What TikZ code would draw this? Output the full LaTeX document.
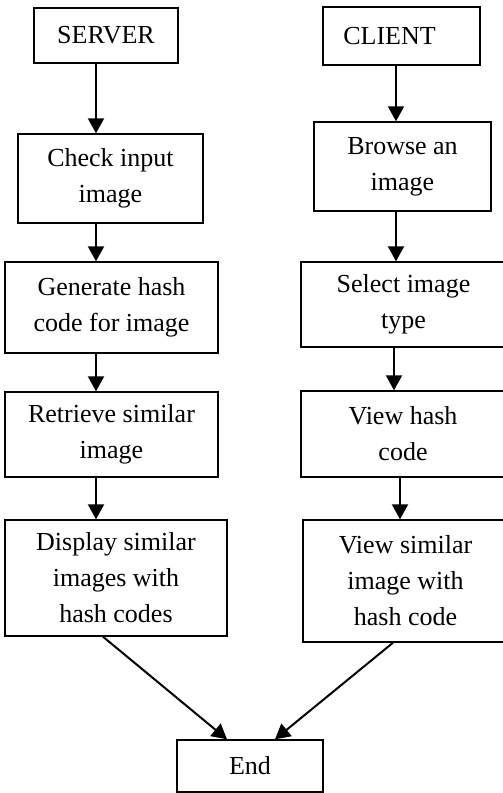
\documentclass[tikz,border=0pt]{standalone}
\usepackage{fontspec}
\setmainfont{Liberation Serif}
\usetikzlibrary{arrows.meta}
\begin{document}
\begin{tikzpicture}[x=1pt,y=-1pt,
    stepbox/.style={draw,line width=1.4pt,align=center,inner sep=0pt,
      font=\fontsize{26}{36}\selectfont},
    flow/.style={-{Triangle[width=16pt,length=15pt]},line width=2pt}]
  \useasboundingbox (0,0) rectangle (503,793);
  \coordinate (lcol) at (96,0);
  \coordinate (rcol) at (396,0);
  \draw
    (106,35.5) node[stepbox,minimum width=144pt,minimum height=55pt] (server){SERVER}
    (110.5,178.5) node[stepbox,minimum width=185pt,minimum height=89pt] (check){Check input\\image}
    (111.5,307.5) node[stepbox,minimum width=213pt,minimum height=91pt] (generate){Generate hash\\code for image}
    (111.5,434.5) node[stepbox,minimum width=213pt,minimum height=85pt] (retrieve){Retrieve similar\\image}
    (116,578) node[stepbox,minimum width=222pt,minimum height=116pt] (display){Display similar\\images with\\hash codes};
  \draw
    (401.5,36) node[stepbox,minimum width=157pt,minimum height=58pt] (client){CLIENT\hspace{24pt}}
    (402.5,166.5) node[stepbox,minimum width=177pt,minimum height=89pt] (browse){Browse an\\image}
    (403.5,304.5) node[stepbox,minimum width=205pt,minimum height=85pt] (select){Select image\\type}
    (403,434) node[stepbox,minimum width=204pt,minimum height=86pt] (viewhash){View hash\\code}
    (405.5,581) node[stepbox,minimum width=205pt,minimum height=122pt] (viewsim){View similar\\image with\\hash code};
  \draw
    (250,766) node[stepbox,minimum width=146pt,minimum height=52pt] (endbox){End};
  \begin{scope}[flow]
    \draw (server.south -| lcol) to (check.north -| lcol);
    \draw (check.south -| lcol) to (generate.north -| lcol);
    \draw (generate.south -| lcol) to (retrieve.north -| lcol);
    \draw (retrieve.south -| lcol) to (display.north -| lcol);
    \draw (client.south -| rcol) to (browse.north -| rcol);
    \draw (browse.south -| rcol) to (select.north -| rcol);
    \draw ([xshift=-2pt]select.south -| rcol) to ([xshift=-2pt]viewhash.north -| rcol);
    \draw ([xshift=4pt]viewhash.south -| rcol) to ([xshift=4pt]viewsim.north -| rcol);
    \draw ([xshift=-13pt]display.south) to ([xshift=-23pt]endbox.north);
    \draw ([xshift=-12.5pt]viewsim.south) to ([xshift=25pt]endbox.north);
  \end{scope}
\end{tikzpicture}
\end{document}
